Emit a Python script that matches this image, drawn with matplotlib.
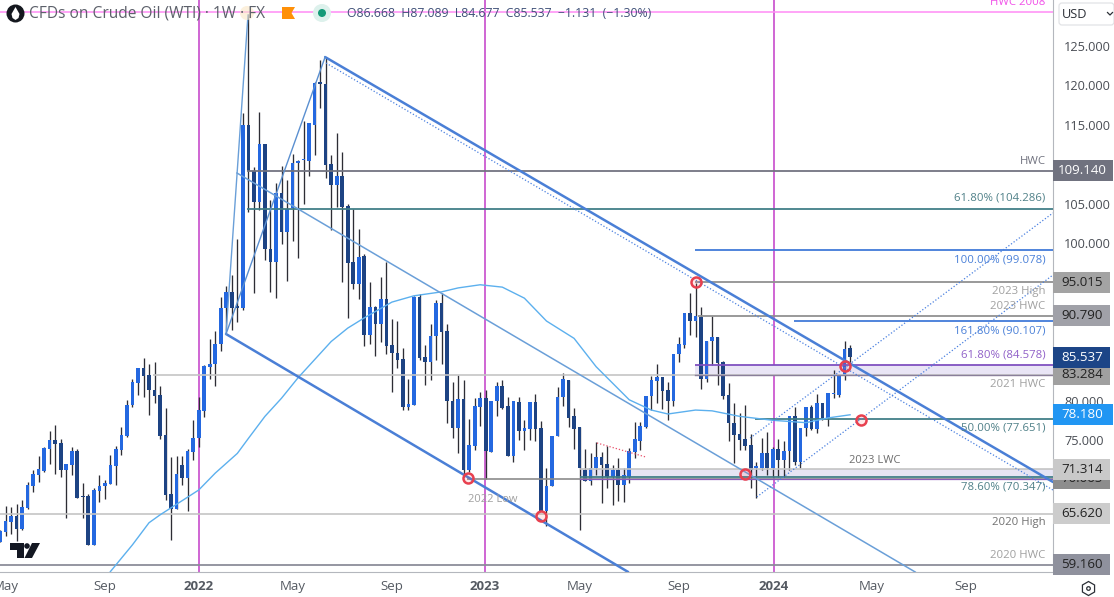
import matplotlib
matplotlib.use("Agg")
import matplotlib.pyplot as plt
from matplotlib.patches import Rectangle, Circle, Polygon, FancyBboxPatch, RegularPolygon

plt.rcParams["font.family"] = ["Open Sans", "DejaVu Sans"]

# ── weekly candles, week 0 = first week of 2022 ──────────────────────────────
first_week = -36
opens = [62.0, 63.3, 64.6, 65.4, 63.7, 66.4, 69.2, 70.6, 71.1, 73.9, 75.0, 74.6, 71.2, 71.8, 73.6, 67.9, 67.9, 61.7,
         68.5, 69.1, 69.4, 71.7, 73.7, 75.5, 79.4, 82.2, 84.1, 83.3, 81.3, 80.7, 75.6, 68.1, 66.3, 71.8, 70.2, 73.5,
         75.2, 78.7, 84.3, 84.7, 87.2, 91.7, 93.8, 92.0, 91.8, 115.0, 109.1, 105.25, 112.6, 99.3, 97.6, 106.4, 101.4, 104.4,
         110.1, 110.5, 110.45, 115.0, 120.4, 120.2, 110.0, 107.4, 108.5, 104.7, 97.6, 94.8, 98.3, 88.3, 91.9, 89.7, 92.9, 87.1,
         86.1, 85.3, 79.2, 79.45, 93.2, 85.5, 84.95, 88.2, 92.35, 88.8, 80.0, 76.5, 80.2, 71.2, 74.3, 79.2, 80.3, 73.5,
         79.9, 81.8, 79.3, 73.0, 79.8, 76.2, 76.4, 79.8, 76.5, 66.0, 69.1, 75.55, 80.4, 82.6, 78.0, 76.7, 71.2, 69.8,
         71.4, 72.8, 71.95, 70.35, 71.2, 69.3, 70.35, 73.45, 74.9, 76.6, 80.6, 82.5, 83.0, 81.3, 79.9, 85.9, 87.05, 91.07,
         90.15, 90.65, 82.7, 87.5, 88.1, 84.9, 80.7, 77.2, 75.8, 75.1, 74.35, 71.4, 71.4, 73.4, 71.4, 73.8, 72.5, 73.6,
         78.05, 72.15, 76.5, 79.2, 76.35, 79.75, 77.85, 80.9, 80.7, 83.25, 86.67]
closes = [63.4, 64.7, 65.4, 63.7, 66.5, 69.3, 70.7, 71.3, 74.0, 75.0, 74.5, 71.2, 71.9, 73.6, 67.7, 67.8, 61.7, 68.6,
          69.2, 69.5, 71.8, 73.9, 75.6, 79.4, 82.3, 84.1, 83.1, 81.3, 80.6, 75.5, 68.0, 66.2, 70.7, 70.2, 73.6, 75.2,
          78.8, 84.4, 84.7, 87.2, 91.8, 93.8, 91.8, 91.8, 115.0, 109.2, 105.25, 112.6, 99.3, 97.6, 106.3, 101.4, 104.3, 110.1,
          110.45, 110.6, 115.2, 120.3, 120.2, 109.9, 107.4, 108.5, 104.6, 97.5, 94.8, 98.2, 88.3, 91.9, 89.7, 92.9, 86.97, 86.1,
          85.2, 79.2, 79.6, 93.1, 85.4, 84.95, 88.2, 92.35, 88.75, 80.0, 76.5, 80.2, 71.2, 74.4, 79.3, 80.3, 73.6, 80.0,
          81.8, 79.1, 73.0, 79.9, 76.2, 76.5, 79.8, 76.35, 66.0, 69.2, 75.55, 80.5, 82.7, 77.8, 76.35, 71.4, 69.8, 71.5,
          72.8, 71.8, 70.35, 71.2, 69.3, 70.6, 73.65, 75.1, 76.8, 80.6, 82.6, 82.95, 81.25, 79.9, 85.9, 87.2, 91.07, 90.15,
          90.7, 82.7, 87.6, 88.1, 84.8, 80.6, 77.2, 75.65, 75.0, 74.2, 71.2, 71.7, 73.4, 71.4, 73.8, 72.5, 73.6, 78.1,
          72.25, 76.5, 79.2, 76.35, 79.75, 77.85, 81.0, 80.9, 83.25, 86.6, 85.54]
highs = [63.6, 66.6, 66.5, 66.9, 67.4, 69.7, 71.2, 73.0, 74.1, 76.2, 76.9, 75.1, 72.0, 74.1, 73.9, 69.6, 68.2, 68.9,
         70.6, 69.9, 73.1, 74.2, 76.7, 80.1, 82.7, 84.1, 85.4, 84.7, 84.9, 81.8, 79.1, 72.9, 73.0, 73.0, 73.9, 77.5,
         80.5, 84.5, 87.8, 88.8, 93.2, 94.6, 95.9, 100.5, 116.5, 129.0, 109.6, 116.6, 112.6, 105.5, 107.6, 109.8, 108.0, 111.3,
         110.5, 115.5, 115.2, 120.4, 123.2, 123.6, 111.2, 114.0, 111.5, 104.95, 104.3, 101.8, 98.6, 95.1, 92.0, 95.7, 97.6, 90.3,
         90.1, 86.7, 82.8, 93.3, 93.5, 87.1, 89.7, 92.8, 93.6, 89.7, 82.3, 83.2, 82.6, 77.7, 80.3, 81.1, 81.3, 80.0,
         82.4, 82.6, 80.5, 79.9, 80.5, 77.5, 79.8, 80.8, 77.45, 71.5, 75.55, 81.75, 83.45, 82.6, 79.0, 76.6, 73.9, 73.4,
         74.7, 73.5, 74.3, 71.8, 72.7, 71.4, 73.95, 77.3, 77.3, 80.6, 83.1, 84.7, 83.0, 82.4, 85.9, 88.1, 91.07, 93.7,
         94.9, 91.9, 87.6, 90.7, 88.1, 85.05, 82.2, 79.65, 78.4, 79.5, 75.8, 72.25, 75.2, 76.05, 74.1, 75.1, 74.9, 78.1,
         79.2, 76.5, 79.2, 79.5, 80.85, 79.75, 81.0, 83.9, 83.25, 87.55, 87.09]
lows = [62.0, 62.8, 63.1, 62.2, 63.6, 66.3, 68.4, 69.7, 71.0, 72.0, 70.7, 70.3, 65.1, 70.6, 67.6, 65.1, 61.7, 61.7,
        67.1, 67.5, 69.4, 69.3, 73.1, 75.4, 79.2, 80.7, 80.5, 78.2, 79.7, 75.1, 67.4, 62.3, 66.2, 69.3, 66.0, 72.5,
        74.1, 77.9, 82.7, 81.9, 86.3, 89.0, 89.0, 90.0, 91.5, 103.9, 93.6, 104.2, 97.8, 93.8, 93.0, 99.9, 95.2, 100.3,
        98.1, 105.0, 108.5, 111.2, 117.1, 108.3, 101.6, 104.6, 95.1, 90.45, 94.2, 92.9, 86.9, 87.2, 85.7, 87.4, 85.9, 81.1,
        84.2, 78.8, 78.8, 79.4, 85.1, 82.0, 82.6, 85.2, 84.65, 77.1, 75.3, 73.4, 70.35, 71.0, 73.7, 76.8, 70.1, 73.5,
        78.1, 78.9, 73.0, 72.25, 75.0, 73.7, 75.0, 74.9, 66.0, 64.1, 69.1, 75.55, 79.3, 76.7, 73.85, 63.6, 69.8, 69.3,
        70.6, 67.05, 68.9, 66.75, 67.25, 67.1, 69.6, 72.7, 73.7, 76.5, 78.8, 79.7, 78.9, 77.5, 79.3, 84.85, 86.7, 88.3,
        88.1, 81.5, 82.4, 84.5, 82.0, 80.15, 74.9, 72.1, 73.7, 73.7, 68.9, 67.6, 71.2, 70.5, 70.3, 70.3, 70.3, 71.2,
        71.85, 71.5, 75.55, 76.3, 75.85, 77.55, 76.8, 80.3, 80.5, 82.6, 84.68]

ma_weeks = [-16, -14, -12, -9, -7, -5, 0, 3, 7, 9, 12, 15, 18, 21, 24, 27, 30, 35, 37, 39, 44, 47, 51, 55, 59, 63, 68, 72, 78, 82, 85, 90, 93, 98, 104, 110, 114, 118]
ma_values = [58.3, 60.0, 61.7, 64.5, 65.5, 66.4, 68.65, 70.8, 73.3, 75.2, 78.0, 80.3, 82.9, 85.2, 87.5, 89.2, 90.5, 92.5, 92.9, 93.3, 93.8, 94.3, 94.7, 94.4, 93.0, 90.1, 87.9, 84.3, 80.1, 78.8, 78.3, 78.8, 78.7, 78.0, 77.5, 77.2, 77.8, 78.2]

# channel and trend lines: (week, price) end points
chan_upper = ([22.9, 154.76], [123.6, 69.67])
chan_lower = ([4.95, 77.8], [88.45, 58.25])
chan_mid = ([6.94, 129.8], [108.88, 58.25])
dot_upper = ([23.06, 154.76], [122.84, 68.65])
dot_a = ([101.1, 154.76], [67.77, 95.94])
dot_b = ([99.9, 154.76], [75.25, 103.81])
steep_a = ([4.95, 8.93], [88.45, 128.93])
steep_b = ([4.95, 22.9], [88.45, 123.6])
red_dash = ([72.15, 81.0], [74.62, 72.84])

# circled touch points
touch_weeks = [48.8, 62.0, 90.0, 117.0, 99.0, 120.0]
touch_prices = [70.2, 65.4, 95.1, 84.4, 70.7, 77.6]

# horizontal levels: price, start week, colour, width
levels = [
    (129.3, -36.0, "#ff8cf5", 1.3),
    (109.14, 8.75, "#70727f", 1.5),
    (104.286, 8.75, "#3f7d86", 1.5),
    (99.078, 89.9, "#3f78d8", 1.5),
    (95.015, 89.9, "#8f8f8f", 1.5),
    (90.79, 90.5, "#8f8f8f", 1.5),
    (90.107, 107.8, "#3f78d8", 1.5),
    (84.578, 89.9, "#7e4fbf", 1.5),
    (83.284, -8.3, "#c4c4c4", 1.4),
    (77.651, 100.8, "#3f7d86", 1.5),
    (71.314, 69.1, "#c4c4c4", 1.4),
    (70.347, 69.1, "#3f7d86", 1.5),
    (70.065, 48.6, "#8a8a8a", 1.4),
    (65.62, -36.0, "#c4c4c4", 1.4),
    (59.16, -36.0, "#8a8c98", 1.5),
]

level_labels = [
    ("HWC 2008", 130.46, "#f050e8"),
    ("HWC", 110.4, "#70727f"),
    ("61.80% (104.286)", 105.7, "#4f8088"),
    ("100.00% (99.078)", 97.84, "#4a80d8"),
    ("2023 High", 93.9, "#a0a0a0"),
    ("2023 HWC", 91.9, "#a0a0a0"),
    ("161.80% (90.107)", 88.83, "#4a80d8"),
    ("61.80% (84.578)", 85.8, "#9060c8"),
    ("2021 HWC", 82.1, "#a0a0a0"),
    ("50.00% (77.651)", 76.5, "#4f8088"),
    ("78.60% (70.347)", 69.04, "#4f8088"),
    ("2020 High", 64.5, "#707070"),
    ("2020 HWC", 60.3, "#a0a0a0"),
]

# price tags on the right axis: price, text, fill, text colour, width px
tags = [
    (59.16, "59.160", "#8f919d", "#222222", 57),
    (65.62, "65.620", "#cccccc", "#222222", 57),
    (70.065, "70.065", "#8d8d8d", "#222222", 57),
    (71.314, "71.314", "#c9c9c9", "#222222", 57),
    (78.18, "78.180", "#2196f3", "#ffffff", 60),
    (83.284, "83.284", "#a0a0a0", "#222222", 57),
    (85.45, "85.537", "#1c4587", "#ffffff", 57),
    (90.79, "90.790", "#a0a1a8", "#222222", 57),
    (95.015, "95.015", "#a3a3a3", "#222222", 57),
    (109.14, "109.140", "#70727f", "#ffffff", 60),
]

x_ticks = [-35, -17, 0, 17, 35, 51.8, 69, 87, 104.2, 122, 139]
x_labels = ["May", "Sep", "2022", "May", "Sep", "2023", "May", "Sep", "2024", "May", "Sep"]
year_weeks = [0, 51.8, 104.2]
y_ticks = [60, 65, 70, 75, 80, 85, 95, 100, 105, 110, 115, 120, 125]

# ─────────────────────────────────────────────────────────────────────────────
W, H = 1114, 597
PLOT_W, PLOT_H = 1053, 572
UP, DOWN, WICK = "#2468e0", "#1d4383", "#2d2d35"
CHAN = "#4a7fd6"

fig = plt.figure(figsize=(W / 100, H / 100), dpi=100)
ax = fig.add_axes([0, 1 - PLOT_H / H, PLOT_W / W, PLOT_H / H])
ax.set_xlim(-198.7 / 5.52, (PLOT_W - 198.7) / 5.52)
ax.set_ylim(100 - (PLOT_H - 243) / 7.88, 100 + 243 / 7.88)

for w in year_weeks:
    ax.axvline(w, color="#c23cc8", lw=1.1, zorder=1)

# zones sit under the candles' top layer
ax.add_patch(Rectangle((89.9, 83.284), 70, 84.578 - 83.284, color="#e9e5f5", lw=0, zorder=1))
ax.add_patch(Rectangle((69.1, 70.347), 90, 71.314 - 70.347, color="#e6e4f4", lw=0, zorder=1))

weeks = [first_week + k for k in range(len(opens))]
ax.vlines(weeks, lows, highs, color=WICK, lw=0.95, zorder=2)
colors = [UP if c >= o else DOWN for o, c in zip(opens, closes)]
ax.bar(weeks, [max(abs(c - o), 0.12) for o, c in zip(opens, closes)], bottom=[min(o, c) for o, c in zip(opens, closes)],
       width=0.66, color=colors, lw=0, zorder=3)

for price, start, col, lw in levels:
    ax.plot([start, 160], [price, price], color=col, lw=lw * 0.85, zorder=4, solid_capstyle="butt")
ax.plot([89.9, 160], [83.284, 83.284], color="#8a7f9a", lw=1.0, zorder=4)
ax.plot([69.1, 160], [70.065, 70.065], color="#8a5ab8", lw=0.9, zorder=4)

ax.plot(ma_weeks, ma_values, color="#5cb0ee", lw=1.0, zorder=5)
ax.plot(*chan_upper, color=CHAN, lw=1.8, zorder=5, solid_capstyle="round")
ax.plot(*chan_lower, color=CHAN, lw=1.8, zorder=5, solid_capstyle="round")
ax.plot(*chan_mid, color="#6a9fd8", lw=1.1, zorder=5)
ax.plot(*steep_a, color="#6a9fd8", lw=1.0, zorder=5)
ax.plot(*steep_b, color="#5a8fd0", lw=1.0, zorder=5)
for line in (dot_upper, dot_a, dot_b):
    ax.plot(*line, color="#4a80e0", lw=0.9, ls=(0, (1, 1.6)), zorder=5)
ax.plot(*red_dash, color="#e8506a", lw=0.9, ls=(0, (1, 1.6)), zorder=5)
ax.scatter(touch_weeks, touch_prices, s=52, facecolors=(1, 0.3, 0.3, 0.12), edgecolors="#e8404f", linewidths=1.8, zorder=6)

ax.xaxis.set_ticks(x_ticks)
ax.set_xticklabels(x_labels, color="#555a62", fontsize=9.5)
for lab, text in zip(ax.get_xticklabels(), x_labels):
    if text.startswith("20"):
        lab.set_fontweight("bold")
ax.yaxis.tick_right()
ax.set_yticks(y_ticks)
ax.set_yticklabels([f"{v:.3f}" for v in y_ticks], color="#4a4e55", fontsize=9.2)
ax.tick_params(axis="x", length=0, pad=6)
ax.tick_params(axis="y", length=0, pad=8)
for side in ("top", "left"):
    ax.spines[side].set_visible(False)
for side in ("right", "bottom"):
    ax.spines[side].set_color("#b4b7bd")

tr = ax.get_yaxis_transform()
for text, y, col in level_labels:
    ax.text(1045.5 / PLOT_W, y, text, transform=tr, ha="right", va="center", color=col, fontsize=8.2, zorder=7)
ax.text(122.4, 72.46, "2023 LWC", ha="center", va="center", color="#6e6e6e", fontsize=8, zorder=7)
ax.text(53.2, 67.5, "2022 Low", ha="center", va="center", color="#a0a0a0", fontsize=8, zorder=7)

for n, (price, text, fill, tcol, width) in enumerate(tags):
    z = 8 + n * 0.1
    ax.add_patch(Rectangle((1, price - 1.33), width / PLOT_W, 2.66, transform=tr, color=fill, lw=0, clip_on=False, zorder=z))
    ax.text(1 + 29 / PLOT_W, price, text, transform=tr, ha="center", va="center", color=tcol, fontsize=9.6, clip_on=False, zorder=z + 0.05)

# ── header, logos and axis furniture in pixel coordinates ────────────────────
top = fig.add_axes([0, 0, 1, 1], zorder=10)
top.set_xlim(0, W)
top.set_ylim(H, 0)
top.axis("off")
top.patch.set_alpha(0)

top.add_patch(Circle((15.5, 13.5), 9, color="#15181f", lw=0))
top.add_patch(Polygon([(15.5, 7), (19.5, 14), (18.5, 18), (15.5, 20), (12.5, 18), (11.5, 14)], color="white", lw=0))
top.add_patch(Circle((247, 13), 7, facecolor="#fbe6c6", edgecolor="none", alpha=0.6))
top.text(29, 13.5, "CFDs on Crude Oil (WTI) · 1W · FX", color="#5c606a", fontsize=11.2, va="center", ha="left")
top.add_patch(Polygon([(282, 7), (295, 7), (291.5, 13), (295, 19), (282, 19)], color="#ff9008", lw=0))
top.add_patch(Circle((322, 13), 9, color="#ddf1ec", lw=0))
top.add_patch(Circle((322, 13), 4, color="#149a78", lw=0))
top.text(347, 13.5, "O86.668  H87.089  L84.677  C85.537  −1.131  (−1.30%)", color="#3f5078", fontsize=8.85, va="center", ha="left")

top.add_patch(FancyBboxPatch((1059, 3), 55, 22, boxstyle="round,pad=0,rounding_size=3", facecolor="white", edgecolor="#e2e3e6", lw=0.9))
top.text(1062, 14, "USD", color="#2b2f36", fontsize=9.2, va="center", ha="left")
top.plot([1107.5, 1110, 1112.5], [12.5, 15, 12.5], color="#2b2f36", lw=0.9)

top.add_patch(RegularPolygon((1088.5, 588.5), 6, radius=7, facecolor="none", edgecolor="#2b2f36", lw=0.9))
top.add_patch(Circle((1088.5, 588.5), 1.8, facecolor="none", edgecolor="#2b2f36", lw=0.9))

top.add_patch(Polygon([(10, 543), (24, 543), (24, 558), (17, 558), (17, 549.5), (10, 549.5)], color="#131722", lw=0))
top.add_patch(Circle((27, 546), 2.8, color="#131722", lw=0))
top.add_patch(Polygon([(32, 543), (40, 543), (32, 558), (24.5, 558)], color="#131722", lw=0))

fig.savefig("out.png", dpi=100)
